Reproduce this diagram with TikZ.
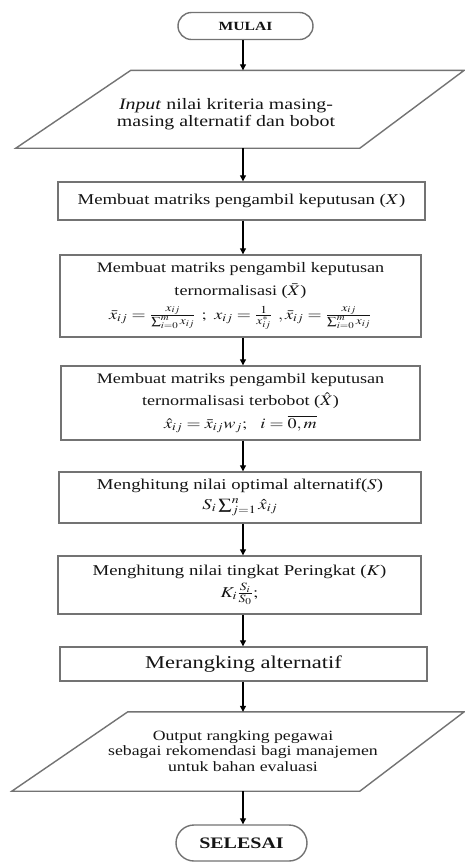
\documentclass[tikz,border=0pt]{standalone}
\usepackage{mathptmx}
\usepackage[no-math]{fontspec}
\setmainfont{Liberation Serif}[FakeStretch=1.25]
\usepackage{graphicx}
\usetikzlibrary{arrows.meta,shapes.misc,calc}
\definecolor{edge}{gray}{0.45}
\definecolor{txtc}{gray}{0.08}
\newcommand\mx[1]{\scalebox{1.25}[1]{$#1$}}
\newcommand\fs[2]{\fontsize{#1}{#2}\selectfont}
\begin{document}
\begin{tikzpicture}[x=1pt,y=-1pt,
  box/.style={draw=edge,line width=1.4pt,rectangle,inner sep=0pt,align=center,text=txtc},
  term/.style={draw=edge,line width=1.4pt,rounded rectangle,inner sep=0pt,text=txtc},
  pbox/.style={rectangle,inner sep=0pt},
  pline/.style={draw=edge,line width=1.4pt,line join=miter},
  txt/.style={inner sep=0pt,align=center,text=txtc},
  arr/.style={-{Triangle[width=6pt,length=6pt]},line width=1.1pt,black}]
\fill[white] (0,0) rectangle (464,863);
\useasboundingbox (0,0) rectangle (464,863);
\coordinate (axis) at (243,0);

\node[term,minimum width=135pt,minimum height=27pt,font=\fs{12.5}{14}\bfseries] (mulai) at (245.5,26) {MULAI};

\node[pbox,minimum width=448pt,minimum height=77.5pt] (input) at (240,109.25) {};
\draw[pline] ($(input.north west)+(115,0)$) -- (input.north east) -- ($(input.south west)+(344,0)$) -- (input.south west) -- cycle;
\node[txt,font=\fs{15.9}{17.5}] (inputtxt) at (226,114) {\textit{Input} nilai kriteria masing-\\masing alternatif dan bobot};

\node[box,minimum width=367pt,minimum height=38pt,font=\fs{15}{18}] (b1) at (241.5,201) {Membuat matriks pengambil keputusan (\mx{X})};

\node[box,minimum width=361pt,minimum height=82pt,font=\fs{14.5}{23}] (b2) at (240.5,296) {Membuat matriks pengambil keputusan\\ternormalisasi (\mx{\bar{X}})\\[1pt]
\mx{\bar{x}_{ij} = \frac{x_{ij}}{\sum_{i=0}^{m} x_{ij}}\ ;\ x_{ij} = \frac{1}{x^{*}_{ij}}\ ,\bar{x}_{ij} = \frac{x_{ij}}{\sum_{i=0}^{m} x_{ij}}}};

\node[box,minimum width=359pt,minimum height=74pt,font=\fs{14.5}{22}] (b3) at (240.5,403) {Membuat matriks pengambil keputusan\\ternormalisasi terbobot (\mx{\hat{X}})\\[1pt]
\mx{\hat{x}_{ij} = \bar{x}_{ij} w_j;\ \ i = \overline{0,m}}};

\node[box,minimum width=362pt,minimum height=51pt,font=\fs{15}{19}] (b4) at (240,497.5) {Menghitung nilai optimal alternatif(\mx{S})\\[1pt]\mx{S_i \sum_{j=1}^{n} \hat{x}_{ij}}};

\node[box,minimum width=363pt,minimum height=58pt,font=\fs{15}{21}] (b5) at (239.5,585) {Menghitung nilai tingkat Peringkat (\mx{K})\\[1pt]\mx{K_i \frac{S_i}{S_0};}};

\node[box,minimum width=367pt,minimum height=34pt,font=\fs{18}{20}] (b6) at (243.5,664) {Merangking alternatif};

\node[pbox,minimum width=452pt,minimum height=79pt] (output) at (238,751.5) {};
\draw[pline] ($(output.north west)+(116,0)$) -- (output.north east) -- ($(output.south west)+(348,0)$) -- (output.south west) -- cycle;
\node[txt,font=\fs{14.2}{15.5}] (outputtxt) at (243,751) {Output rangking pegawai\\sebagai rekomendasi bagi manajemen\\untuk bahan evaluasi};

\node[term,minimum width=131pt,minimum height=36pt,font=\fs{16}{18}\bfseries] (selesai) at (241.5,843) {SELESAI};

\draw[arr] (mulai.south -| axis) -- (input.north -| axis);
\draw[arr] (input.south -| axis) -- (b1.north -| axis);
\draw[arr] (b1.south -| axis) -- (b2.north -| axis);
\draw[arr] (b2.south -| axis) -- (b3.north -| axis);
\draw[arr] (b3.south -| axis) -- (b4.north -| axis);
\draw[arr] (b4.south -| axis) -- (b5.north -| axis);
\draw[arr] (b5.south -| axis) -- (b6.north -| axis);
\draw[arr] (b6.south -| axis) -- (output.north -| axis);
\draw[arr] (output.south -| axis) -- (selesai.north -| axis);
\end{tikzpicture}
\end{document}
